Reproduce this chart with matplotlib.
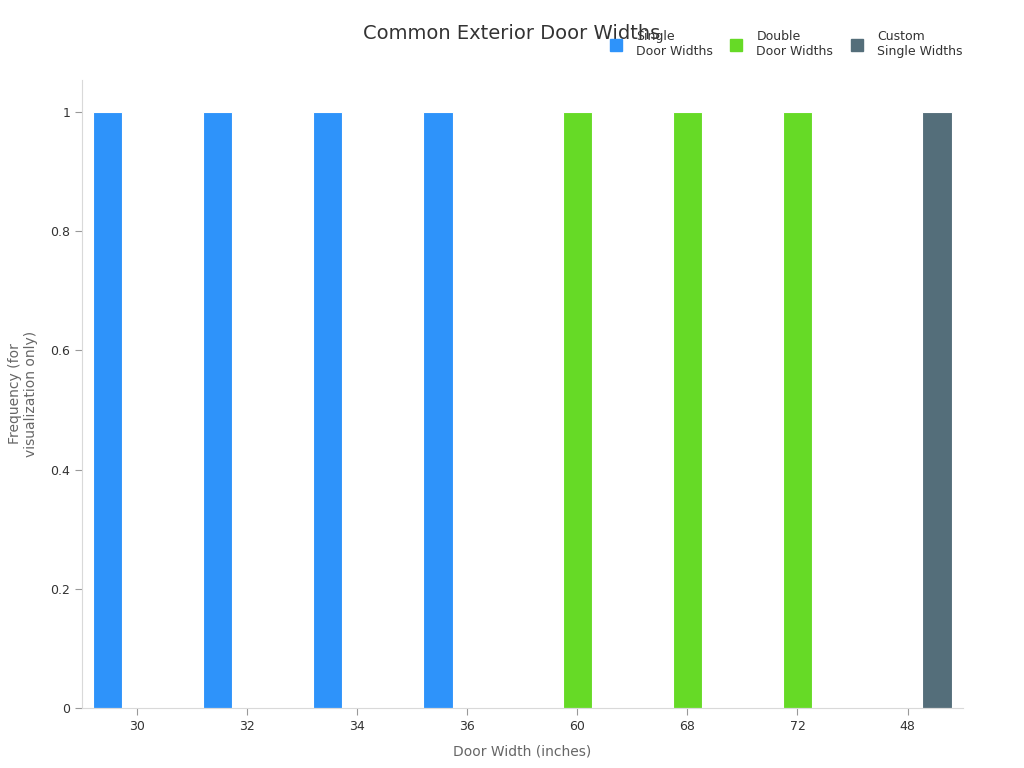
import numpy as np
import matplotlib
matplotlib.use('Agg')
import matplotlib.pyplot as plt
from matplotlib.lines import Line2D
from matplotlib.ticker import FuncFormatter

# data
categories = ['30', '32', '34', '36', '60', '68', '72', '48']
series_names = ['Single\nDoor Widths', 'Double\nDoor Widths', 'Custom\nSingle Widths']
single_vals = [1, 1, 1, 1, 0, 0, 0, 0]
double_vals = [0, 0, 0, 0, 1, 1, 1, 0]
custom_vals = [0, 0, 0, 0, 0, 0, 0, 1]
colors = ['#2E93FA', '#66DA26', '#546E7A']

fig = plt.figure(figsize=(10.24, 7.68), dpi=100)
ax = fig.add_axes([0.080, 0.078, 0.860, 0.818])

x = np.arange(len(categories))
w = 0.8 / 3
for i, (vals, col) in enumerate(zip([single_vals, double_vals, custom_vals], colors)):
    ax.bar(x + (i - 1) * w, vals, width=w, color=col,
           edgecolor='#ffffff', linewidth=0.8)

ax.set_xlim(-0.5, len(categories) - 0.5)
ax.set_ylim(0, 1.054)
ax.set_xticks(x)
ax.set_xticklabels(categories)
ax.set_yticks([0, 0.2, 0.4, 0.6, 0.8, 1.0])
ax.yaxis.set_major_formatter(FuncFormatter(lambda v, p: f'{v:g}'))

for s in ['top', 'right']:
    ax.spines[s].set_visible(False)
for s in ['left', 'bottom']:
    ax.spines[s].set_color('#d9d9d9')
ax.tick_params(colors='#999999', labelcolor='#333333', labelsize=9, length=5)

ax.set_xlabel('Door Width (inches)', fontsize=10, color='#666666', labelpad=8)
ax.set_ylabel('Frequency (for\nvisualization only)', fontsize=10, color='#666666')
ax.yaxis.set_label_coords(-0.05, 0.5)
fig.text(0.5, 0.957, 'Common Exterior Door Widths', ha='center', va='center',
         fontsize=14, color='#333333')

handles = [Line2D([], [], marker='s', linestyle='none', markersize=9,
                  markerfacecolor=c, markeredgecolor=c) for c in colors]
fig.legend(handles, series_names, loc='upper right', ncol=3,
           bbox_to_anchor=(0.951, 0.975), frameon=False, fontsize=9,
           labelcolor='#333333', handletextpad=0.6, columnspacing=0.9)

fig.savefig('out.png', dpi=100)
